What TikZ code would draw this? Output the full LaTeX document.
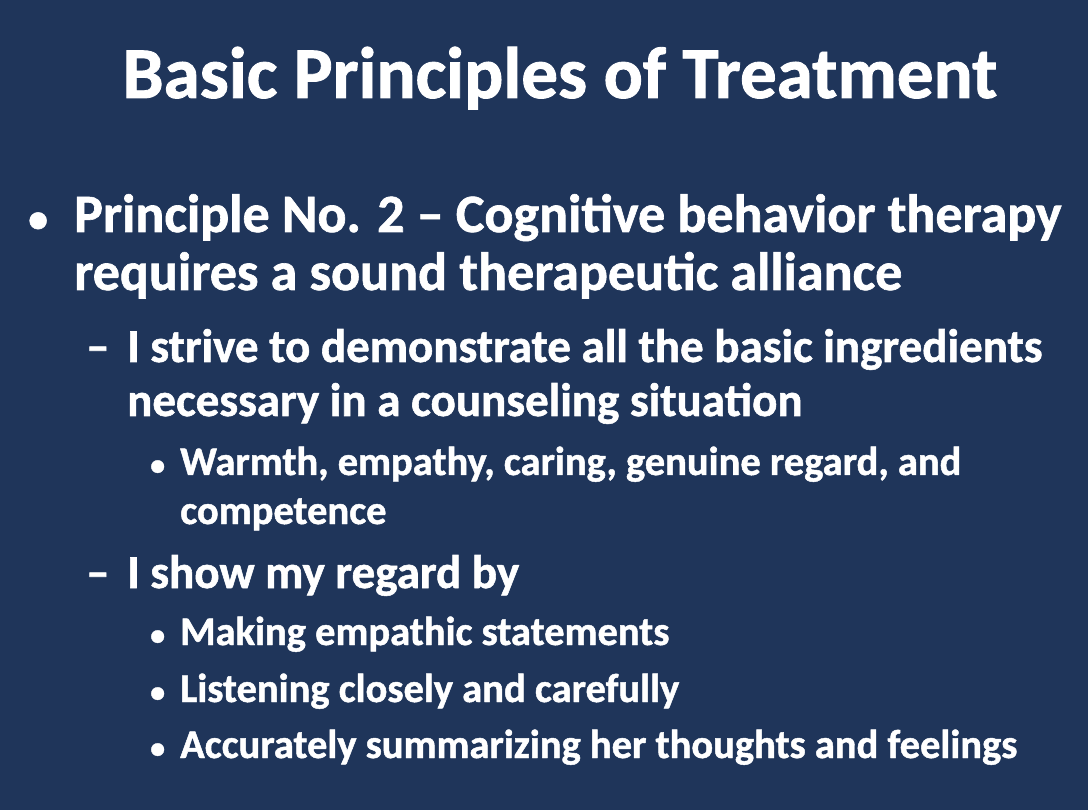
\documentclass[tikz,border=0pt]{standalone}
\usepackage{fontspec}
\setmainfont{Carlito}[FakeBold=1.2]
\newfontfamily\bul{Carlito}[FakeBold=1.2]
\definecolor{bg}{HTML}{1F355A}
\begin{document}
\begin{tikzpicture}[x=1pt,y=-1pt,
  every node/.style={text=white,inner sep=0pt,anchor=base west},
  tt/.style={font=\fontsize{73}{75}\bfseries,anchor=base},
  lone/.style={font=\fontsize{54}{56}\bfseries},
  ltwo/.style={font=\fontsize{47}{49}\bfseries},
  lthree/.style={font=\fontsize{40.5}{42}\bfseries}]
\fill[bg] (0,0) rectangle (1088,810);
\useasboundingbox (0,0) rectangle (1088,810);
\node[tt] (title) at (560,98) {Basic Principles of Treatment};
\node[lone,font=\fontsize{40}{40}\bfseries] (b1) at (28,232) {•};
\node[lone] (p1) at (74,232) {Principle No. 2 – Cognitive behavior therapy};
\node[lone] (p1b) at (74,290) {requires a sound therapeutic alliance};
\node[ltwo] (d1) at (86,362) {–};
\node[ltwo] (s1) at (127,362) {I strive to demonstrate all the basic ingredients};
\node[ltwo] (s1b) at (127,416) {necessary in a counseling situation};
\node[lthree,font=\fontsize{30}{30}\bfseries] (e1) at (150,475) {•};
\node[lthree] (t1) at (180,475) {Warmth, empathy, caring, genuine regard, and};
\node[lthree] (t1b) at (180,524) {competence};
\node[ltwo] (d2) at (86,588) {–};
\node[ltwo] (s2) at (127,588) {I show my regard by};
\node[lthree,font=\fontsize{30}{30}\bfseries] (e2) at (150,645) {•};
\node[lthree] (t2) at (180,645) {Making empathic statements};
\node[lthree,font=\fontsize{30}{30}\bfseries] (e3) at (150,702) {•};
\node[lthree] (t3) at (180,702) {Listening closely and carefully};
\node[lthree,font=\fontsize{30}{30}\bfseries] (e4) at (150,758) {•};
\node[lthree] (t4) at (180,758) {Accurately summarizing her thoughts and feelings};
\end{tikzpicture}
\end{document}
